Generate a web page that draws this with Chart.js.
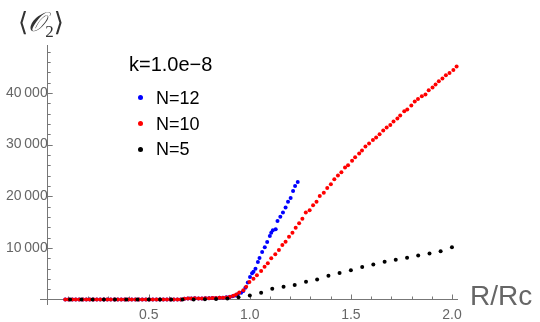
<!DOCTYPE html>
<html><head><meta charset="utf-8">
<script src="https://cdn.jsdelivr.net/npm/chart.js@4"></script>
<style>
html,body{margin:0;padding:0;background:#fff;}
#wrap{position:relative;width:540px;height:322px;overflow:hidden;}
canvas{position:absolute;left:0;top:0;}
.t{position:absolute;font-family:"Liberation Sans",Arial,sans-serif;white-space:nowrap;line-height:1;}
.dot{position:absolute;width:5px;height:5px;border-radius:50%;}
</style></head><body>
<div id="wrap">
<canvas id="c" width="540" height="322"></canvas>
<div id="overlay"></div>
</div>
<script>
// ---------- data ----------
const legendTitle = "k=1.0e\u22128";
const seriesLabels = ["N=12", "N=10", "N=5"];
const xAxisTitle = "R/Rc";
const xTickLabels = [0.5, 1.0, 1.5, 2.0];
const yTickLabels = [10000, 20000, 30000, 40000];

const redX = [0.087,0.104,0.122,0.139,0.156,0.174,0.191,0.208,0.226,0.243,0.260,0.278,0.295,0.312,0.330,0.347,0.364,0.382,0.399,0.416,0.434,0.451,0.468,0.486,0.503,0.520,0.538,0.555,0.572,0.590,0.607,0.624,0.642,0.659,0.676,0.694,0.711,0.728,0.746,0.763,0.780,0.798,0.815,0.832,0.850,
0.867,0.884,0.902,0.919,0.933,0.948,0.968,0.982,0.998,1.018,1.035,1.056,1.073,1.089,1.106,1.126,1.144,1.161,1.177,1.194,1.211,1.227,1.244,1.260,1.277,1.296,1.313,1.330,
1.346,1.366,1.383,1.401,1.418,1.436,1.453,1.471,1.486,1.506,1.521,1.541,1.555,1.572,1.590,1.609,1.625,1.642,1.660,1.677,1.695,1.711,1.730,1.744,1.764,1.779,1.799,1.816,1.832,1.851,1.869,1.885,1.904,1.919,1.935,1.953,1.970,1.988,2.007,2.023,2.038];
const redY = [0,0,0,0,0,0,0,0,0,0,0,0,0,0,0,0,0,0,0,0,0,0,0,0,0,0,0,0,0,0,0,0,0,0,150,200,200,220,200,210,230,250,270,300,320,
330,410,520,720,950,1350,1780,2490,3390,4040,4680,5520,6360,7010,7980,8750,9590,10560,11210,12180,12950,13920,14760,15660,16830,17280,18250,18960,
20060,20700,21610,22320,23290,24000,24640,25550,26000,26900,27550,28260,28840,29620,30200,30910,31360,32010,32720,33300,33820,34460,35040,35630,36470,36790,37560,38340,38860,39370,39700,40540,41050,41630,42280,42800,43440,43900,44480,45120,45640];

const blueX = [0.087,0.104,0.122,0.139,0.156,0.174,0.191,0.208,0.226,0.243,0.260,0.278,0.295,0.312,0.330,0.347,0.364,0.382,0.399,0.416,0.434,0.451,0.468,0.486,0.503,0.520,0.538,0.555,0.572,0.590,0.607,0.624,0.642,0.659,0.676,0.694,0.711,0.728,0.746,0.763,0.780,0.798,0.815,0.832,0.850,
0.867,0.884,0.900,0.915,0.928,0.940,0.957,0.968,0.978,0.990,1.001,1.011,1.018,1.028,1.040,1.048,1.061,1.074,1.086,1.099,1.106,1.114,1.128,1.137,1.151,1.164,1.177,1.189,1.202,1.214,1.224,1.237];
const blueY = [0,0,0,0,0,0,0,0,0,0,0,0,0,0,0,0,0,0,0,0,0,0,0,0,0,0,0,0,0,0,0,0,0,0,150,200,200,220,200,210,230,250,270,300,320,
330,420,500,650,800,1000,1320,1650,2290,3300,4380,5070,5390,5980,7270,8040,9210,10110,11140,12310,12950,13400,13600,15210,16050,16830,17800,18960,19670,21030,22000,22770];

const blackX = [0.111,0.167,0.222,0.278,0.333,0.389,0.444,0.500,0.556,0.611,0.667,0.722,0.778,0.833,0.889,0.944,1.000,1.056,1.111,1.167,1.222,1.278,1.333,1.389,1.444,1.500,1.556,1.611,1.667,1.722,1.778,1.833,1.889,1.944,2.000];
const blackY = [0,0,0,0,0,0,0,0,0,0,0,10,30,80,200,450,800,1300,2100,2470,2800,3420,3860,4620,5130,5650,6290,6780,7290,7690,8080,8530,8910,9360,10100];

const colors = ["#0000ff", "#ff0000", "#000000"];

// ---------- build ----------
const zip = (xs, ys) => xs.map((x, i) => ({x, y: ys[i]}));
const seriesData = [zip(blueX, blueY), zip(redX, redY), zip(blackX, blackY)];
const orders = [3, 2, 1];

const fmt = v => {
  const s = String(Math.round(v));
  return s.length > 3 ? s.slice(0, s.length - 3) + "\u2009" + s.slice(-3) : s;
};

const tickMarks = {
  id: 'tickMarks',
  beforeDatasetsDraw(chart) {
    const ctx = chart.ctx, xs = chart.scales.x, ys = chart.scales.y;
    const x0 = xs.getPixelForValue(0), y0 = ys.getPixelForValue(0);
    ctx.save();
    ctx.strokeStyle = '#777';
    ctx.lineWidth = 1;
    ctx.beginPath();
    for (let i = 1; i <= 20; i++) {
      const v = i / 10;
      const px = Math.round(xs.getPixelForValue(v)) + 0.5;
      const len = (i % 5 === 0) ? 5 : 3;
      ctx.moveTo(px, y0); ctx.lineTo(px, y0 - len);
    }
    for (let i = 1; i <= 24; i++) {
      const v = i * 2000;
      const py = Math.round(ys.getPixelForValue(v)) + 0.5;
      const len = (i % 5 === 0) ? 5 : 3;
      ctx.moveTo(x0, py); ctx.lineTo(x0 + len, py);
    }
    ctx.stroke();
    ctx.restore();
  }
};

new Chart(document.getElementById('c'), {
  type: 'scatter',
  data: {
    datasets: seriesLabels.map((lab, i) => ({
      label: lab,
      data: seriesData[i],
      backgroundColor: colors[i],
      borderColor: colors[i],
      borderWidth: 0,
      pointRadius: 2.0,
      pointHoverRadius: 2.0,
      order: orders[i],
      clip: false
    }))
  },
  options: {
    responsive: false,
    animation: false,
    layout: { padding: { left: 40, right: 83, top: 45, bottom: 18 } },
    plugins: { legend: { display: false }, tooltip: { enabled: false } },
    scales: {
      x: {
        type: 'linear', min: -0.038, max: 2.025,
        position: { y: 0 },
        grid: { display: false, drawTicks: false },
        border: { display: true, color: '#777', width: 1 },
        afterBuildTicks: s => { s.ticks = xTickLabels.map(v => ({ value: v })); },
        ticks: {
          color: '#666', padding: 7, maxRotation: 0, autoSkip: false,
          font: { family: 'Liberation Sans', size: 14 },
          callback: v => Number(v).toFixed(1)
        }
      },
      y: {
        type: 'linear', min: -870, max: 49300,
        position: { x: 0 },
        grid: { display: false, drawTicks: false },
        border: { display: true, color: '#777', width: 1 },
        afterBuildTicks: s => { s.ticks = yTickLabels.map(v => ({ value: v })); },
        ticks: {
          color: '#666', padding: 4, autoSkip: false,
          font: { family: 'Liberation Sans', size: 14 },
          callback: v => fmt(v)
        }
      }
    }
  },
  plugins: [tickMarks]
});

// ---------- overlay text ----------
const ov = document.getElementById('overlay');
function addText(txt, css, html) {
  const d = document.createElement('div');
  d.className = 't';
  if (html) d.innerHTML = txt; else d.textContent = txt;
  d.style.cssText += css;
  ov.appendChild(d);
  return d;
}
addText('\u27E8<span style="font-family:\'DejaVu Serif\',serif;font-style:italic;font-size:27px;">\uD835\uDCAA</span><span style="font-size:17px;position:relative;top:6px;font-family:\'Liberation Serif\',serif;">2</span>\u27E9',
  'left:18px;top:8px;font-size:26px;color:#333;font-family:"DejaVu Serif","Liberation Serif",serif;', true);
addText(xAxisTitle, 'left:470px;top:282px;font-size:28px;color:#666;');
addText(legendTitle, 'left:129px;top:54px;font-size:20px;color:#000;');
const itemY = [97.5, 123.5, 149];
seriesLabels.forEach((lab, i) => {
  const dot = document.createElement('div');
  dot.className = 'dot';
  dot.style.left = (140 - 2.5) + 'px';
  dot.style.top = (itemY[i] - 2.5) + 'px';
  dot.style.background = colors[i];
  ov.appendChild(dot);
  addText(lab, 'left:156px;top:' + (itemY[i] - 9) + 'px;font-size:18px;color:#000;');
});
</script>
</body></html>
